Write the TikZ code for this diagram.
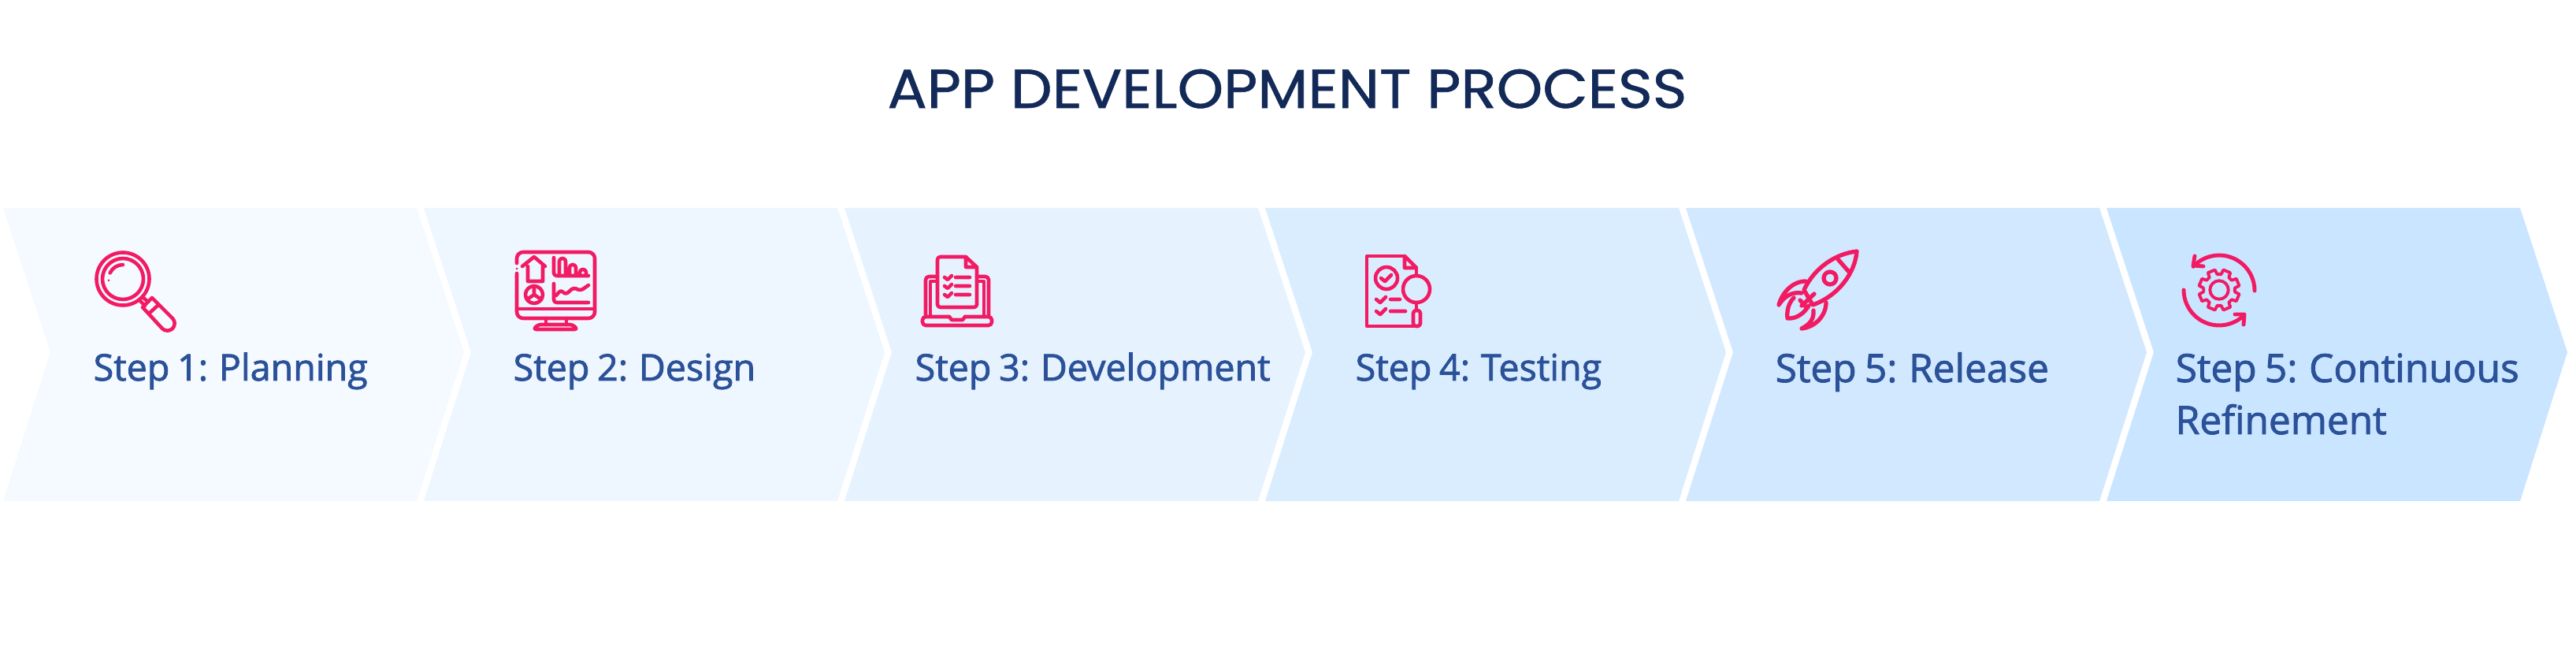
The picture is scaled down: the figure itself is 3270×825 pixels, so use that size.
\documentclass[tikz,border=0pt]{standalone}
\usepackage{fontspec}
\newfontfamily\stepfont{Open Sans}[FakeBold=1.8,WordSpace=0.8]
\newfontfamily\titlefont{Poppins}[FakeBold=0.8]
\definecolor{titleblue}{HTML}{132A58}
\definecolor{stepblue}{HTML}{2B5199}
\definecolor{iconpink}{HTML}{F21A63}
\tikzset{
	steplabel/.style={anchor=base west,inner sep=0pt,align=left,text=stepblue,font=\stepfont\fontsize{#1}{18.8}\selectfont},
	icon/.style={draw=iconpink,line width=1.3pt,line cap=round,line join=round}
}
\begin{document}
\begin{tikzpicture}[x=0.01cm,y=-0.01cm]
	\useasboundingbox (0,0) rectangle (3270,825);
	\fill[white] (0,0) rectangle (3270,825);
	\node[anchor=base,inner sep=0pt,text=titleblue,font=\titlefont\fontsize{19.8}{24}\selectfont] (title) at (1634,137) {\scalebox{1.07}[1]{APP DEVELOPMENT PROCESS}};
	\foreach \i/\c in {0/F4FAFF,1/EEF6FF,2/E6F3FF,3/DAEDFF,4/D1E8FF,5/C9E5FF}{
		\definecolor{stepfill}{HTML}{\c}
		\pgfmathsetmacro{\l}{4+534*\i}
		\fill[stepfill] (\l,264)--(\l+525,264)--(\l+585,447)--(\l+525,636)--(\l,636)--(\l+60,447)--cycle;
	}
	\foreach \n/\x/\y/\s/\l in {1/118/483/13.25/{Step 1: Planning},2/651/483/13.25/{Step 2: Design},3/1161/483/13.25/{Step 3: Development},4/1720/483/13.25/{Step 4: Testing},5/2253/485/14.1/{Step 5: Release},6/2761/551/14.1/{Step 5: Continuous\\Refinement}}
		\node[steplabel=\s] (step\n) at (\x,\y) {\l};
	\begin{scope}[icon]
		\draw (156,354) circle (33.5);
		\draw (156,354) circle (26);
		\draw (156,354) ++(-90:18) arc (-90:-155:18);
		\fill[iconpink] (138,356) circle (1.5);
		\draw (182,378)--(188,383) (178,382)--(184,388);
		\draw (193,378)--(219,404) arc (-45:135:9.2)--(181,390)--cycle;
		\draw (201,387)--(189,398);
	\end{scope}
	\begin{scope}[icon]
		\draw[rounded corners=2.3pt] (656,334)--(656,320)--(755,320)--(755,404)--(656,404)--(656,347);
		\fill[iconpink] (656,341) circle (1.5);
		\draw (656,392)--(755,392);
		\draw (693,404)--(693,412) (719,404)--(719,412);
		\draw[rounded corners=1pt] (683,412)--(727,412)--(733,418)--(677,418)--cycle;
		\draw (663,338)--(678,326)--(692,338) (670,338)--(670,357)--(689,357)--(689,338);
		\draw (678,374) circle (11);
		\draw (678,374)--(678,363) (678,374)--(669,380) (678,374)--(687,380);
		\draw[rounded corners=1pt] (703,327)--(703,350)--(747,350);
		\draw[rounded corners=1pt] (710,350)--(710,328)--(718,328)--(718,350) (723,350)--(723,336)--(731,336)--(731,350) (736,350)--(736,342)--(744,342)--(744,350);
		\draw[rounded corners=1pt] (703,360)--(703,384)--(747,384);
		\draw[rounded corners=1pt] (706,375)--(712,368)--(718,374)--(728,365)--(737,369)--(747,362);
	\end{scope}
	\begin{scope}[icon]
		\draw[rounded corners=1pt] (1226,326)--(1190,326)--(1190,390)--(1240,390)--(1240,339);
		\draw (1226,326)--(1240,339)--(1226,339)--cycle;
		\foreach \y in {352,363,374}
			\draw (1199,\y)--(1203,\y+3)--(1208,\y-2) (1213,\y)--(1231,\y);
		\draw[rounded corners=1.2pt] (1190,351)--(1175,351)--(1175,400) (1240,351)--(1255,351)--(1255,400);
		\draw (1190,357)--(1181,357)--(1181,400) (1240,357)--(1249,357)--(1249,400);
		\draw[rounded corners=1.2pt] (1205,402)--(1171,402)--(1171,413)--(1259,413)--(1259,402)--(1225,402);
		\draw (1205,402)--(1208,406)--(1222,406)--(1225,402);
	\end{scope}
	\begin{scope}[icon]
		\draw (1783,325)--(1735,325)--(1735,414)--(1800,414);
		\draw (1783,325)--(1798,340)--(1783,340)--cycle;
		\draw (1798,340)--(1798,350);
		\draw (1798,367) circle (17);
		\draw (1798,384)--(1798,394);
		\draw[rounded corners=1pt] (1794,414)--(1794,394)--(1803,394)--(1803,414)--cycle;
		\draw (1760,353) circle (14);
		\draw (1753,353)--(1758,357)--(1766,349);
		\foreach \y/\e in {380/1777,395/1784}
			\draw (1747,\y)--(1752,\y+4)--(1759,\y-3) (1765,\y)--(\e,\y);
	\end{scope}
	\begin{scope}[icon,line width=1.5pt]
		\draw (2357,319) .. controls (2330,322) and (2303,340) .. (2290,368)--(2301,387) .. controls (2335,375) and (2355,345) .. (2357,319);
		\draw (2333,329)--(2347,345);
		\draw (2323,353) circle (8);
		\draw (2292,357) .. controls (2275,357) and (2262,372) .. (2258,387) .. controls (2265,376) and (2275,370) .. (2287,372);
		\draw (2318,384) .. controls (2318,400) and (2305,415) .. (2287,417) .. controls (2297,412) and (2303,405) .. (2302,394);
		\draw (2277,378) .. controls (2270,385) and (2268,395) .. (2269,404) .. controls (2280,405) and (2290,398) .. (2296,388);
		\draw (2303,373)--(2287,388) (2285,381)--(2292,389);
	\end{scope}
	\begin{scope}[icon,line width=1.4pt]
		\draw (2862,369) arc (0:-137:45);
		\draw (2786,325)--(2784,337)--(2797,338);
		\draw (2772,368) arc (180:48:45);
		\draw (2837,399)--(2849,399)--(2848,412);
	\end{scope}
	\begin{scope}[icon,line width=1.1pt,shift={(2817,368)}]
		\draw (0,0) circle (11.7);
		\foreach \a in {0,45,...,315}
			\draw (\a+12:26)--(\a+33:26)--(\a+38:20)--(\a+52:20)--(\a+57:26);
	\end{scope}
\end{tikzpicture}
\end{document}
